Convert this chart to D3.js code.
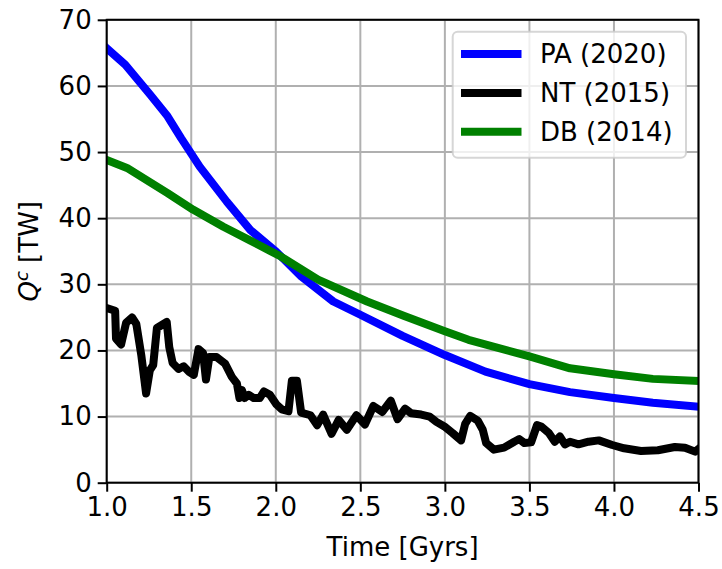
<!DOCTYPE html>
<html>
<head>
<meta charset="utf-8">
<script src="https://cdn.jsdelivr.net/npm/d3@7"></script>
<style>
  html, body { margin: 0; padding: 0; background: #fff; }
  svg { display: block; font-family: "DejaVu Sans", sans-serif; }
</style>
</head>
<body>
<svg id="chart" width="722" height="569"></svg>
<script>
// Convective heat flow Q^c through time for three thermal-evolution models.

// PA (2020)
const paTime = [1.0, 1.11, 1.26, 1.36, 1.44, 1.55, 1.71, 1.85, 2.0, 2.15, 2.34, 2.5, 2.75, 3.0, 3.24, 3.5, 3.74, 4.0, 4.23, 4.5];
const paHeat = [65.7, 63.2, 58.6, 55.4, 52.1, 47.8, 42.5, 38.2, 35.0, 31.2, 27.4, 25.4, 22.2, 19.3, 16.8, 14.9, 13.7, 12.8, 12.1, 11.5];

// NT (2015)
const ntTime = [1.0, 1.05, 1.055, 1.085, 1.115, 1.15, 1.175, 1.205, 1.233, 1.255, 1.275, 1.297, 1.355, 1.37, 1.39,
  1.425, 1.455, 1.485, 1.515, 1.543, 1.57, 1.587, 1.607, 1.65, 1.70, 1.74, 1.77, 1.785, 1.80, 1.815,
  1.84, 1.87, 1.905, 1.93, 1.965, 2.005, 2.035, 2.075, 2.095, 2.125, 2.15, 2.205, 2.245, 2.28, 2.33,
  2.372, 2.42, 2.477, 2.527, 2.577, 2.63, 2.68, 2.72, 2.765, 2.80, 2.86, 2.91, 2.95, 2.997, 3.046,
  3.096, 3.12, 3.15, 3.194, 3.224, 3.244, 3.29, 3.35, 3.41, 3.44, 3.47, 3.51, 3.545, 3.57, 3.615,
  3.65, 3.68, 3.71, 3.74, 3.79, 3.85, 3.91, 3.99, 4.06, 4.16, 4.26, 4.36, 4.42, 4.48, 4.5];
const ntHeat = [26.4, 26.0, 21.8, 20.9, 24.2, 25.0, 24.0, 19.2, 13.5, 17.0, 17.8, 23.4, 24.3, 20.5, 18.1,
  17.2, 17.6, 16.8, 16.3, 20.2, 19.6, 15.6, 19.0, 19.0, 18.0, 16.0, 15.0, 12.8, 14.0, 12.8,
  13.3, 12.8, 12.8, 13.8, 13.3, 11.8, 11.1, 10.8, 15.4, 15.4, 10.6, 10.2, 8.7, 10.3, 7.4,
  9.5, 8.0, 10.2, 8.8, 11.6, 10.7, 12.4, 9.6, 11.2, 10.5, 10.3, 10.0, 9.2, 8.5, 7.5,
  6.4, 8.9, 10.1, 9.4, 8.0, 6.0, 5.0, 5.3, 6.2, 6.6, 6.0, 6.1, 8.7, 8.5, 7.5,
  6.2, 7.0, 5.8, 6.2, 5.8, 6.2, 6.4, 5.7, 5.2, 4.8, 4.9, 5.4, 5.3, 4.7, 5.1];

// DB (2014)
const dbTime = [1.0, 1.12, 1.36, 1.51, 1.69, 1.85, 2.03, 2.25, 2.54, 2.76, 3.0, 3.14, 3.5, 3.74, 4.0, 4.23, 4.5];
const dbHeat = [48.8, 47.6, 43.8, 41.3, 38.7, 36.6, 34.2, 30.7, 27.4, 25.2, 22.9, 21.6, 19.1, 17.3, 16.4, 15.7, 15.4];

const seriesNames = ["PA (2020)", "NT (2015)", "DB (2014)"];
const seriesColors = ["#0000ff", "#000000", "#008000"];

const xTicks = [1.0, 1.5, 2.0, 2.5, 3.0, 3.5, 4.0, 4.5];
const yTicks = [0, 10, 20, 30, 40, 50, 60, 70];

(function draw() {
  const series = [
    { name: seriesNames[0], color: seriesColors[0], pts: paTime.map((t, i) => [t, paHeat[i]]) },
    { name: seriesNames[1], color: seriesColors[1], pts: ntTime.map((t, i) => [t, ntHeat[i]]) },
    { name: seriesNames[2], color: seriesColors[2], pts: dbTime.map((t, i) => [t, dbHeat[i]]) }
  ];

  const svg = d3.select("#chart");
  const pLeft = 106.7, pRight = 698.5, pTop = 19.8, pBottom = 482.7;
  const fontSize = 26;

  const x = d3.scaleLinear().domain([1.0, 4.5]).range([pLeft, pRight]);
  const y = d3.scaleLinear().domain([0, 70]).range([pBottom, pTop]);

  svg.append("defs").append("clipPath").attr("id", "plotClip")
    .append("rect").attr("x", pLeft).attr("y", pTop)
    .attr("width", pRight - pLeft).attr("height", pBottom - pTop);

  // grid
  const grid = svg.append("g");
  grid.selectAll("line.gx").data(xTicks).join("line").attr("class", "gx")
    .attr("x1", d => x(d)).attr("x2", d => x(d))
    .attr("y1", pTop).attr("y2", pBottom)
    .attr("stroke", "#b0b0b0").attr("stroke-width", 2);
  grid.selectAll("line.gy").data(yTicks).join("line").attr("class", "gy")
    .attr("x1", pLeft).attr("x2", pRight)
    .attr("y1", d => y(d)).attr("y2", d => y(d))
    .attr("stroke", "#b0b0b0").attr("stroke-width", 2);

  // lines
  const line = d3.line().x(d => x(d[0])).y(d => y(d[1]));
  const lines = svg.append("g").attr("clip-path", "url(#plotClip)");
  series.forEach(s => {
    lines.append("path").datum(s.pts)
      .attr("d", line)
      .attr("fill", "none")
      .attr("stroke", s.color)
      .attr("stroke-width", 8)
      .attr("stroke-linejoin", "round")
      .attr("stroke-linecap", "square");
  });

  // axes
  const xAxis = d3.axisBottom(x).tickValues(xTicks).tickFormat(d3.format(".1f"))
    .tickSizeInner(9).tickSizeOuter(0).tickPadding(6);
  const yAxis = d3.axisLeft(y).tickValues(yTicks).tickFormat(d3.format("d"))
    .tickSizeInner(9).tickSizeOuter(0).tickPadding(6);

  const gx = svg.append("g").attr("transform", `translate(0,${pBottom})`).call(xAxis);
  const gy = svg.append("g").attr("transform", `translate(${pLeft},0)`).call(yAxis);
  [gx, gy].forEach(g => {
    g.select(".domain").remove();
    g.selectAll(".tick line").attr("stroke", "#000").attr("stroke-width", 2);
    g.selectAll(".tick text").attr("fill", "#000")
      .style("font-family", "'DejaVu Sans', sans-serif")
      .style("font-size", fontSize + "px");
  });

  // frame
  svg.append("rect").attr("x", pLeft).attr("y", pTop)
    .attr("width", pRight - pLeft).attr("height", pBottom - pTop)
    .attr("fill", "none").attr("stroke", "#000").attr("stroke-width", 2);

  // axis labels
  svg.append("text")
    .attr("x", (pLeft + pRight) / 2).attr("y", 556)
    .attr("text-anchor", "middle")
    .style("font-size", fontSize + "px")
    .text("Time [Gyrs]");

  const yl = svg.append("text")
    .attr("transform", `translate(38,${(pTop + pBottom) / 2}) rotate(-90)`)
    .attr("text-anchor", "middle")
    .style("font-size", fontSize + "px");
  yl.append("tspan").style("font-style", "italic").text("Q");
  yl.append("tspan").style("font-style", "italic").style("font-size", "18px").attr("dy", -10).text("c");
  yl.append("tspan").attr("dy", 10).text("\u00a0[TW]");

  // legend
  const lg = svg.append("g");
  lg.append("rect")
    .attr("x", 452.7).attr("y", 31.7).attr("width", 233.3).attr("height", 126)
    .attr("rx", 5).attr("ry", 5)
    .attr("fill", "rgba(255,255,255,0.8)")
    .attr("stroke", "rgba(204,204,204,0.8)").attr("stroke-width", 2);
  const rowY = [54, 93, 131.7];
  series.forEach((s, i) => {
    lg.append("line")
      .attr("x1", 461).attr("x2", 521.5)
      .attr("y1", rowY[i]).attr("y2", rowY[i])
      .attr("stroke", s.color).attr("stroke-width", 8);
    lg.append("text")
      .attr("x", 540).attr("y", rowY[i])
      .attr("dy", "0.36em")
      .style("font-size", fontSize + "px")
      .text(s.name);
  });
})();
</script>
</body>
</html>
